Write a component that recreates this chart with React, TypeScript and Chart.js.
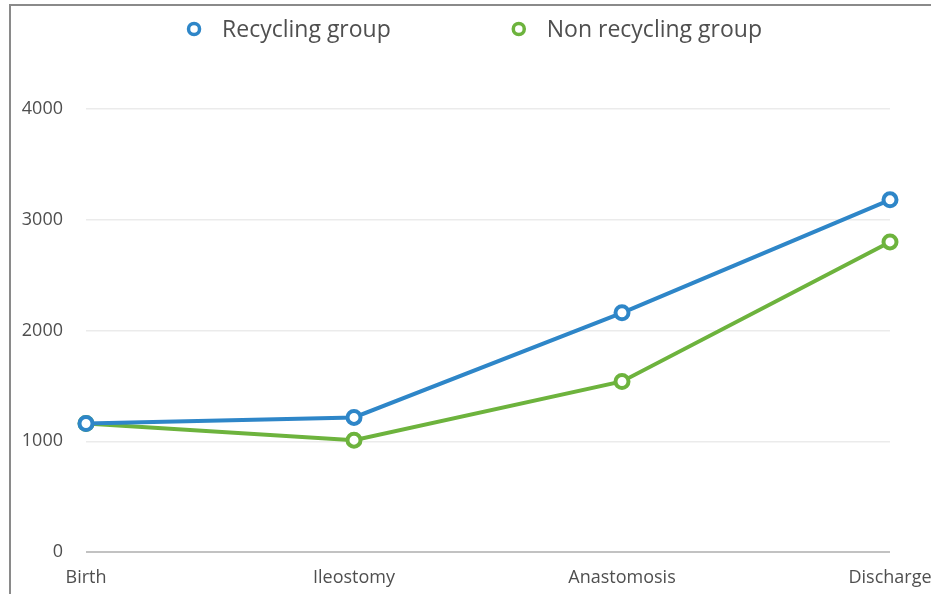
import React, { useEffect, useRef } from "react";
import { Chart, registerables } from "chart.js";

Chart.register(...registerables);

// Weight by stage for the two feeding groups
const stages = ["Birth", "Ileostomy", "Anastomosis", "Discharge"];
const recyclingGroup = [1160, 1215, 2160, 3180];
const nonRecyclingGroup = [1160, 1010, 1540, 2800];
const seriesNames = ["Recycling group", "Non recycling group"];
const yTicks = [0, 1000, 2000, 3000, 4000];

const seriesColors = ["#2e86c8", "#6db33d"];
const textColor = "#4f4f4f";
const fontFamily = "'Open Sans', Lato, sans-serif";

const CANVAS_W = 949;
const CANVAS_H = 594;

// Legend drawn above the plot: hollow ring marker followed by the series name
const ringLegend = {
  id: "ringLegend",
  afterDraw(chart: any) {
    const ctx: CanvasRenderingContext2D = chart.ctx;
    const datasets = chart.data.datasets;
    const ringR = 5.5;
    const ringHalf = 7;
    const markerGap = 28;
    const itemGap = 121;
    ctx.save();
    ctx.font = `23px ${fontFamily}`;
    const widths = datasets.map((ds: any) => ctx.measureText(ds.label).width);
    let total = 0;
    widths.forEach((w: number, i: number) => {
      total += ringHalf + markerGap + w;
      if (i < widths.length - 1) total += itemGap;
    });
    let x = chart.width / 2 - total / 2;
    const cy = 29;
    datasets.forEach((ds: any, i: number) => {
      const cx = x + ringHalf;
      ctx.beginPath();
      ctx.arc(cx, cy, ringR, 0, Math.PI * 2);
      ctx.fillStyle = "#ffffff";
      ctx.fill();
      ctx.lineWidth = 3.5;
      ctx.strokeStyle = ds.borderColor;
      ctx.stroke();
      ctx.fillStyle = textColor;
      ctx.textAlign = "left";
      ctx.textBaseline = "alphabetic";
      ctx.fillText(ds.label, cx + markerGap, 37);
      x = cx + markerGap + widths[i] + itemGap;
    });
    ctx.restore();
  },
};

export default function App() {
  const canvasRef = useRef<HTMLCanvasElement | null>(null);

  useEffect(() => {
    const canvas = canvasRef.current;
    if (!canvas) return;
    const series = [recyclingGroup, nonRecyclingGroup];
    const chart = new Chart(canvas, {
      type: "line",
      data: {
        labels: stages,
        datasets: series.map((values, i) => ({
          label: seriesNames[i],
          data: values,
          borderColor: seriesColors[i],
          backgroundColor: "#ffffff",
          borderWidth: 4,
          pointRadius: 6.5,
          pointBorderWidth: 4,
          pointBackgroundColor: "#ffffff",
          pointBorderColor: seriesColors[i],
          tension: 0,
          fill: false,
        })),
      },
      options: {
        responsive: false,
        animation: false,
        events: [],
        layout: { padding: { left: 0, right: CANVAS_W - 890, top: 109, bottom: 2 } },
        plugins: {
          legend: { display: false },
          tooltip: { enabled: false },
          title: { display: false },
        },
        scales: {
          x: {
            type: "category",
            offset: false,
            grid: { display: false, drawTicks: false },
            border: { display: false },
            afterFit: (scale: any) => {
              scale.height = 40;
            },
            ticks: {
              color: textColor,
              padding: 15,
              maxRotation: 0,
              autoSkip: false,
              font: { family: fontFamily, size: 18 },
            },
          },
          y: {
            min: yTicks[0],
            max: yTicks[yTicks.length - 1],
            afterBuildTicks: (scale: any) => {
              scale.ticks = yTicks.map((v) => ({ value: v }));
            },
            afterFit: (scale: any) => {
              scale.width = 86;
            },
            border: { display: false },
            grid: {
              drawTicks: false,
              lineWidth: (c: any) => (c.tick && c.tick.value === 0 ? 2 : 1.5),
              color: (c: any) =>
                c.tick && c.tick.value === 0 ? "#c2c2c2" : "#ebebeb",
            },
            ticks: {
              color: textColor,
              padding: 23,
              font: { family: fontFamily, size: 18 },
              callback: (v: any) => String(v),
            },
          },
        },
      },
      plugins: [ringLegend],
    });
    return () => chart.destroy();
  }, []);

  return (
    <div
      style={{
        position: "fixed",
        left: 0,
        top: 0,
        width: 931,
        height: 594,
        overflow: "hidden",
        background: "#ffffff",
      }}
    >
      <div
        style={{
          position: "absolute",
          left: 9,
          top: 4,
          width: 980,
          height: 640,
          border: "2px solid #8a8a8a",
          boxSizing: "border-box",
        }}
      />
      <canvas
        ref={canvasRef}
        width={CANVAS_W}
        height={CANVAS_H}
        style={{ position: "absolute", left: 0, top: 0, width: CANVAS_W, height: CANVAS_H }}
      />
    </div>
  );
}
